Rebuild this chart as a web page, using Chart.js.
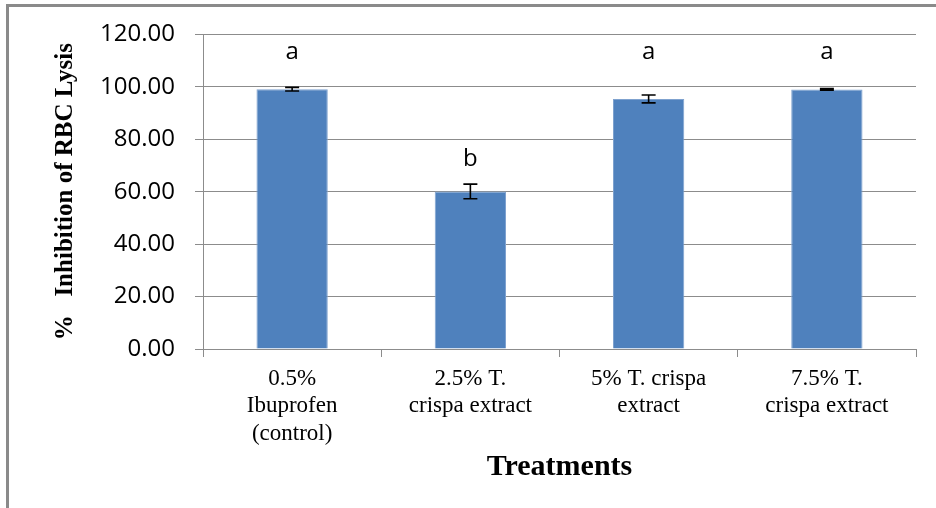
<!DOCTYPE html>
<html>
<head>
<meta charset="utf-8">
<script src="https://cdn.jsdelivr.net/npm/chart.js@4.4.1/dist/chart.umd.min.js"></script>
<style>
  html, body { margin: 0; padding: 0; background: #fff; }
  #wrap { position: relative; width: 936px; height: 508px; overflow: hidden; background: #fff; }
  #c { position: absolute; left: 0; top: 0; }
  #frame { position: absolute; left: 6px; top: 4px; width: 940px; height: 520px;
           border-top: 3px solid #8a8a8a; border-left: 3px solid #8a8a8a; pointer-events: none; }
</style>
</head>
<body>
<div id="wrap">
  <canvas id="c" width="936" height="508"></canvas>
  <div id="frame"></div>
</div>
<script>
// ---- data ----
const categories = [
  ["0.5%", "Ibuprofen", "(control)"],
  ["2.5% T.", "crispa extract"],
  ["5% T. crispa", "extract"],
  ["7.5% T.", "crispa extract"]
];
const inhibition = [99.1, 60.1, 95.4, 99.0];
const stdErrors = [0.7, 2.8, 1.5, 0.3];
const groupLetters = ["a", "b", "a", "a"];
const letterLevels = [113.2, 72.6, 113.2, 113.2];
const yTicks = [0, 20, 40, 60, 80, 100, 120];

const GRID = '#8c8c8c';
const SERIF = '"Liberation Serif", "Times New Roman", serif';

const errorBarPlugin = {
  id: 'errorBars',
  afterDatasetsDraw(chart) {
    const ctx = chart.ctx;
    const xs = chart.scales.x, ys = chart.scales.y;
    ctx.save();
    ctx.strokeStyle = '#000';
    ctx.lineWidth = 1.6;
    inhibition.forEach((v, i) => {
      const x = xs.getPixelForValue(i);
      const yt = ys.getPixelForValue(v + stdErrors[i]);
      const yb = ys.getPixelForValue(v - stdErrors[i]);
      ctx.beginPath();
      ctx.moveTo(x, yt); ctx.lineTo(x, yb);
      ctx.moveTo(x - 7, yt); ctx.lineTo(x + 7, yt);
      ctx.moveTo(x - 7, yb); ctx.lineTo(x + 7, yb);
      ctx.stroke();
    });
    ctx.fillStyle = '#000';
    ctx.font = '24px "Open Sans"';
    ctx.textAlign = 'center';
    ctx.textBaseline = 'middle';
    groupLetters.forEach((t, i) => {
      ctx.fillText(t, xs.getPixelForValue(i), ys.getPixelForValue(letterLevels[i]));
    });
    ctx.restore();
  }
};

new Chart(document.getElementById('c'), {
  type: 'bar',
  data: {
    labels: categories,
    datasets: [{
      data: inhibition,
      backgroundColor: '#4F81BD',
      borderColor: '#7fa2cf',
      borderWidth: 1,
      barPercentage: 0.4,
      categoryPercentage: 1.0
    }]
  },
  options: {
    responsive: false,
    animation: false,
    devicePixelRatio: 1,
    layout: { padding: { left: 0, top: 33, right: 20, bottom: 0 } },
    plugins: { legend: { display: false }, tooltip: { enabled: false } },
    scales: {
      x: {
        offset: true,
        grid: { offset: true, drawOnChartArea: false, drawTicks: true, tickLength: 8, color: GRID, lineWidth: 1 },
        border: { display: true, color: GRID, width: 1 },
        ticks: { color: '#000', padding: 8, maxRotation: 0, autoSkip: false,
                 font: { family: SERIF, size: 23, lineHeight: 1.2 } },
        title: { display: true, text: 'Treatments', color: '#000',
                 font: { family: SERIF, size: 30, weight: 'bold', lineHeight: 1.2 },
                 padding: { top: 0, bottom: 23 } },
        afterFit(s) { s.height = 159; }
      },
      y: {
        min: 0, max: 120,
        afterBuildTicks(s) { s.ticks = yTicks.map(v => ({ value: v })); },
        grid: { color: GRID, lineWidth: 1, tickLength: 8, drawTicks: true },
        border: { display: true, color: GRID, width: 1 },
        ticks: { color: '#000', padding: 20,
                 font: { family: '"Open Sans", sans-serif', size: 24 },
                 callback: v => Number(v).toFixed(2) },
        title: { display: true, text: '%   Inhibition of RBC Lysis', color: '#000',
                 font: { family: SERIF, size: 25, weight: 'bold', lineHeight: 1.2 },
                 padding: { top: 51, bottom: 0 } },
        afterFit(s) { s.width = 203; }
      }
    }
  },
  plugins: [errorBarPlugin]
});
</script>
</body>
</html>
